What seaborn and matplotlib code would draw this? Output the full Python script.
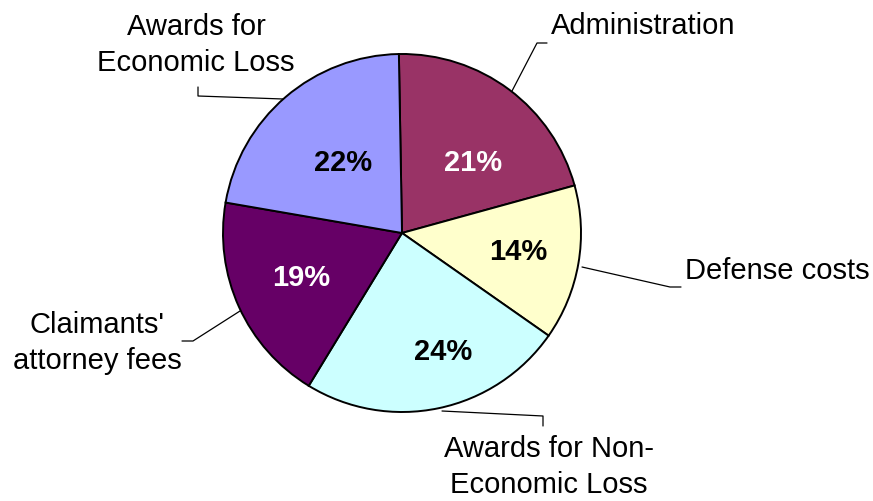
import matplotlib
matplotlib.use("Agg")
import matplotlib.pyplot as plt
import seaborn as sns

sns.set_theme(style="white")
plt.rcParams['font.family'] = ['Liberation Sans', 'DejaVu Sans']

# ---- data ----
categories = ["Administration", "Defense costs", "Awards for Non-\nEconomic Loss",
              "Claimants'\nattorney fees", "Awards for\nEconomic Loss"]
values = [21, 14, 24, 19, 22]
colors = ["#993366", "#FFFFCC", "#CCFFFF", "#660066", "#9999FF"]
pct_colors = ["white", "black", "black", "white", "black"]

# ---- layout (pixel coordinates, y downward) ----
W, H = 873, 502
center_px = (402, 234)
radius_px = 179
pct_pos = [(473, 163), (518, 252), (443, 352), (301, 278), (343, 163)]
label_pos = [(643, 26), (777, 271), (549, 467), (97, 343), (196, 45)]
leaders = [
    [(512, 92), (537, 44), (547, 44)],
    [(582, 268), (670, 288), (681, 288)],
    [(442, 412), (543, 417), (543, 427)],
    [(240, 312), (193, 342), (182, 342)],
    [(283, 100), (198, 97), (198, 88)],
]

fig = plt.figure(figsize=(W / 100, H / 100), dpi=100)
ax = fig.add_axes([0, 0, 1, 1])

def fy(y):
    return H - y

ax.pie(values, colors=colors, startangle=91, counterclock=False,
       center=(center_px[0], fy(center_px[1])), radius=radius_px,
       wedgeprops=dict(edgecolor="black", linewidth=1.4), frame=True)
ax.set_xlim(0, W)
ax.set_ylim(0, H)
ax.set_aspect("equal")
ax.axis("off")

for v, (x, y), c in zip(values, pct_pos, pct_colors):
    ax.text(x, fy(y), f"{v}%", ha="center", va="center", fontsize=21,
            fontweight="bold", color=c)

for lab, (x, y) in zip(categories, label_pos):
    ax.text(x, fy(y), lab, ha="center", va="center", fontsize=21, color="black",
            linespacing=1.4)

for pts in leaders:
    xs = [p[0] for p in pts]
    ys = [fy(p[1]) for p in pts]
    ax.plot(xs, ys, color="black", linewidth=0.9)

fig.savefig("out.png", dpi=100, facecolor="white")
